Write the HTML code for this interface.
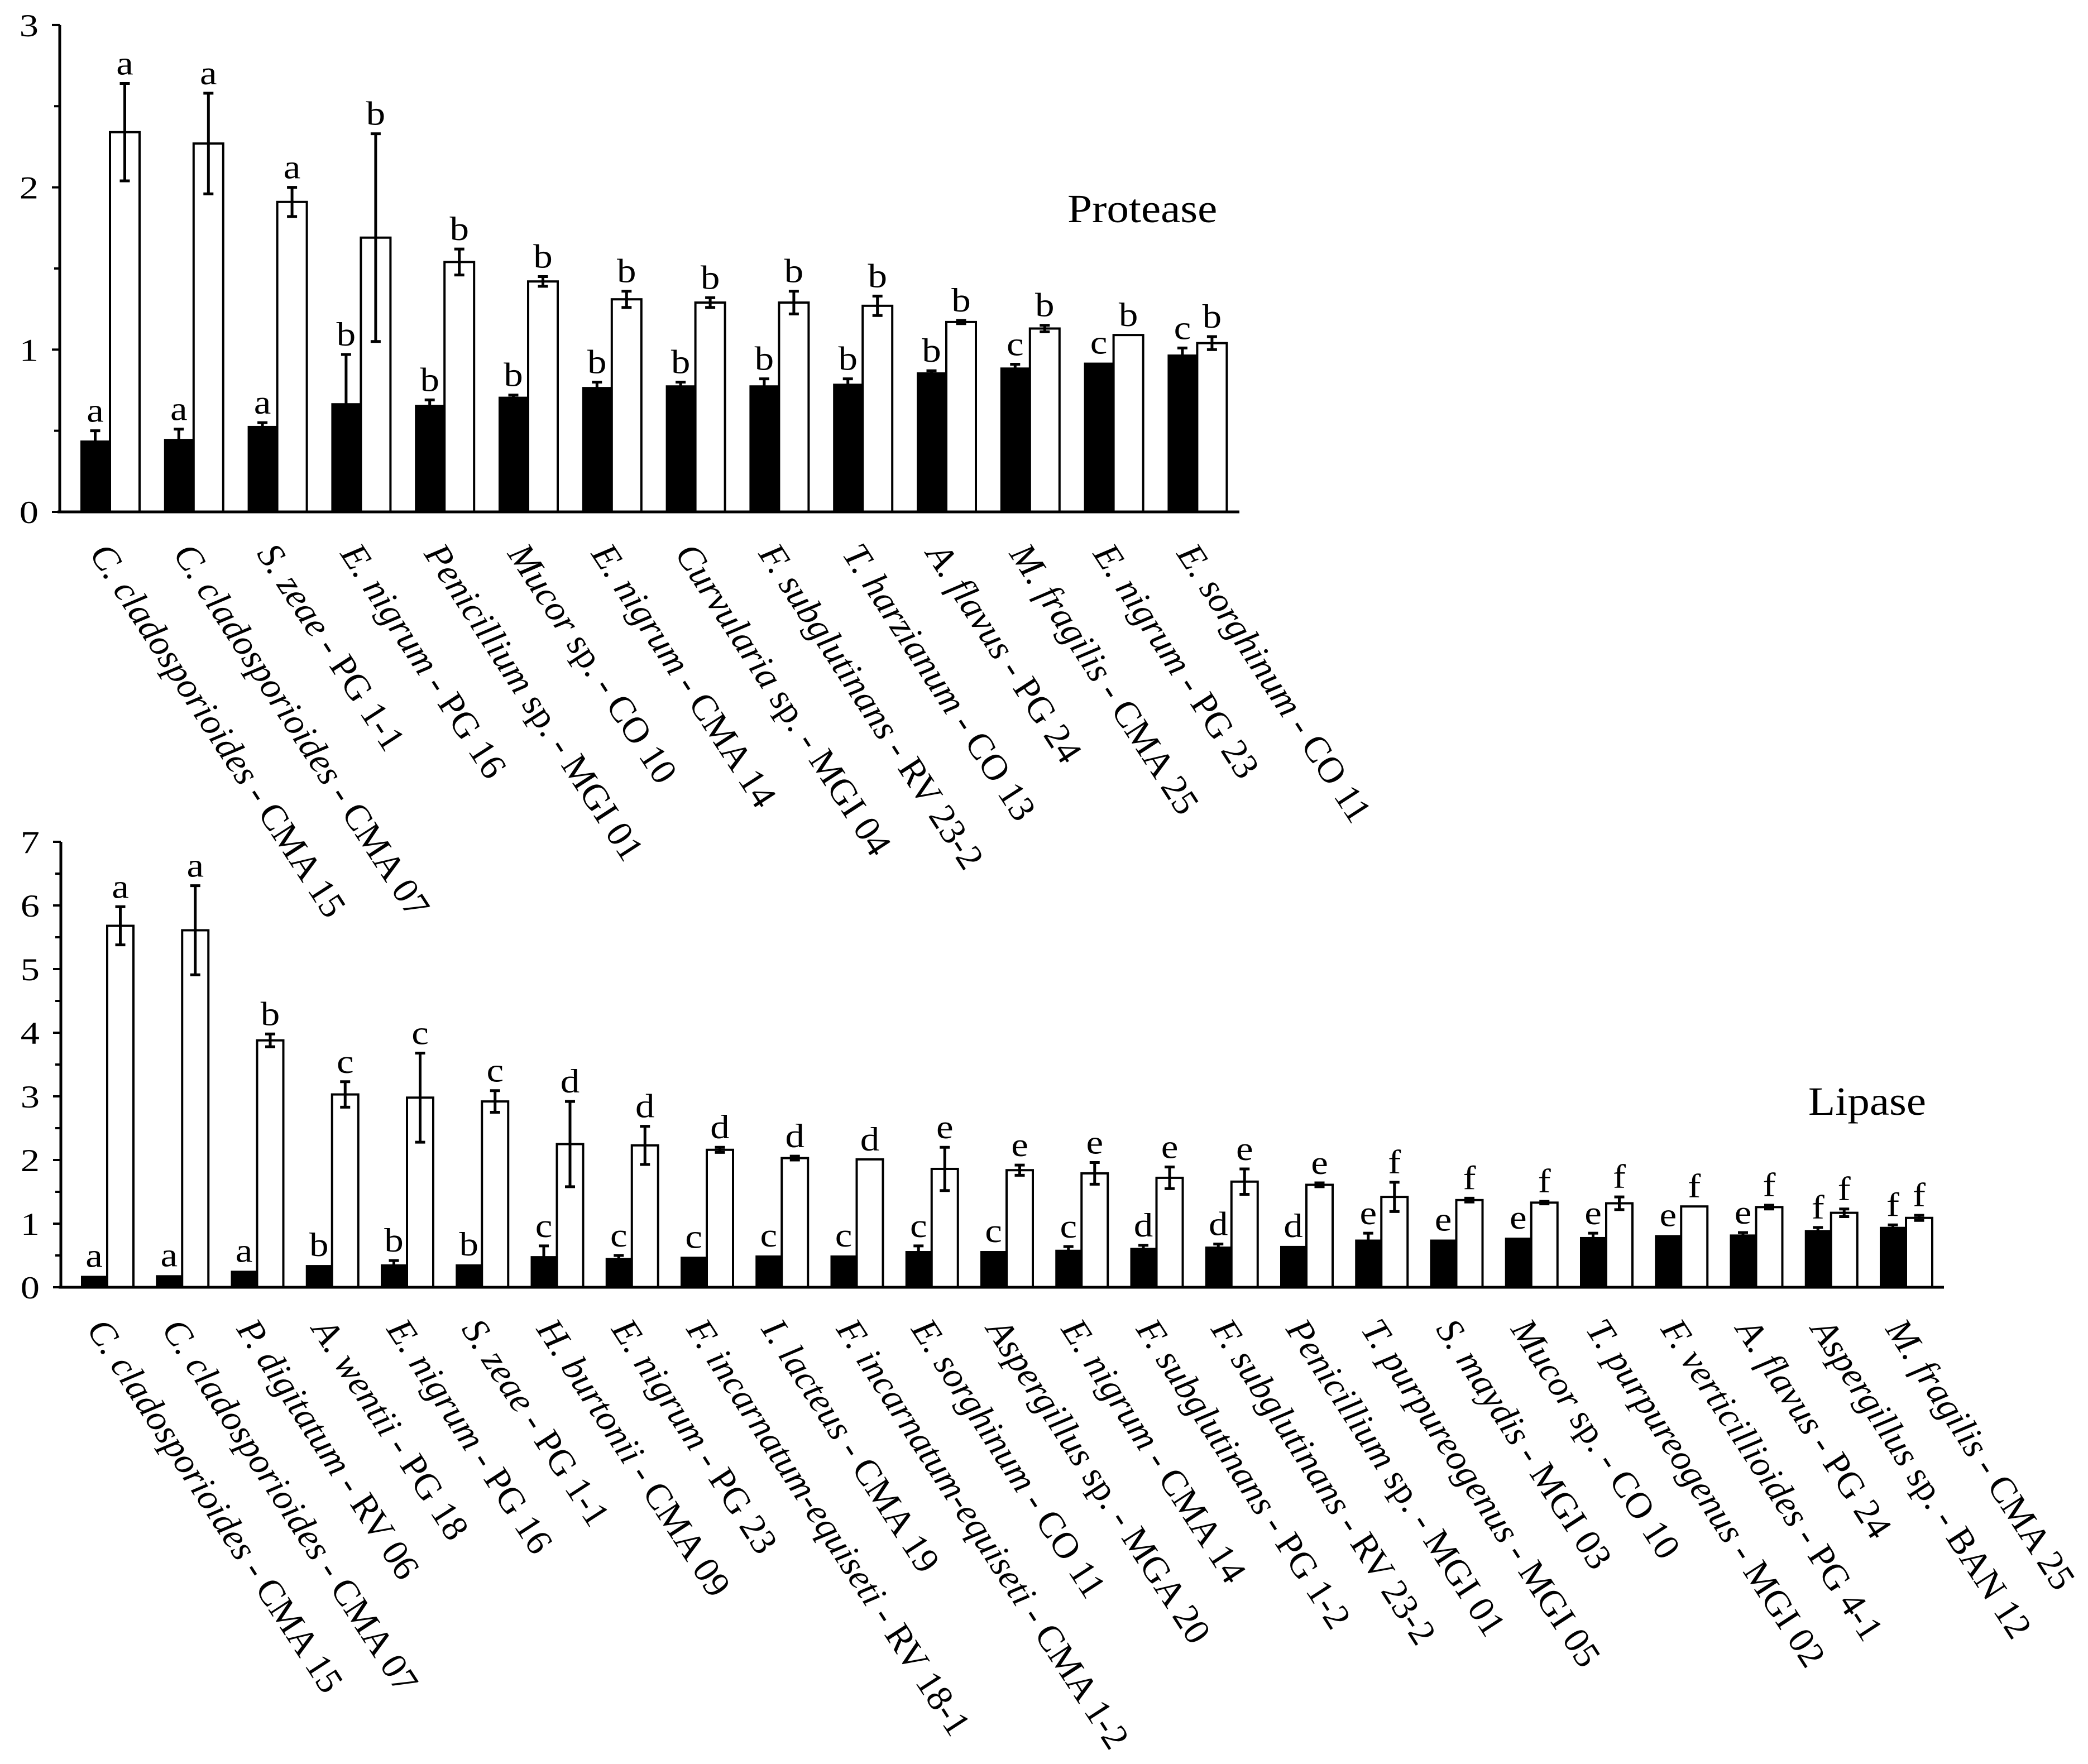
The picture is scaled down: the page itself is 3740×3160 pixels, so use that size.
<!DOCTYPE html>
<html><head><meta charset="utf-8"><style>
html,body{margin:0;padding:0;background:#fff}
svg{display:block}
text{font-family:"Liberation Serif",serif;fill:#000}
</style></head><body>
<svg id="chart" xmlns="http://www.w3.org/2000/svg" width="3740" height="3160" viewBox="0 0 3740 3160">
<rect width="3740" height="3160" fill="#fff"/>
<g id="top"></g>
<g id="bot"></g>
<text transform="translate(1912 398) scale(1.1 1)" font-size="72">Protease</text>
<text transform="translate(3450 1997) scale(1.1 1)" font-size="72" text-anchor="end">Lipase</text>
</svg>
<script>
// Protease data
const protSpecies = ["C. cladosporioides","C. cladosporioides","S. zeae","E. nigrum","Penicillium","Mucor","E. nigrum","Curvularia","F. subglutinans","T. harzianum","A. flavus","M. fragilis","E. nigrum","E. sorghinum"];
const protSuffix = [" - CMA 15"," - CMA 07"," - PG 1-1"," - PG 16"," sp. - MGI 01"," sp. - CO 10"," - CMA 14"," sp. - MGI 04"," - RV 23-2"," - CO 13"," - PG 24"," - CMA 25"," - PG 23"," - CO 11"];
const protBlack = [0.44,0.45,0.53,0.67,0.66,0.71,0.77,0.78,0.78,0.79,0.86,0.89,0.92,0.97];
const protBlackErr = [0.06,0.06,0.02,0.30,0.03,0.01,0.03,0.02,0.04,0.03,0.01,0.02,0,0.04];
const protWhite = [2.34,2.27,1.91,1.69,1.54,1.42,1.31,1.29,1.29,1.27,1.17,1.13,1.09,1.04];
const protWhiteErr = [0.30,0.31,0.09,0.64,0.08,0.03,0.05,0.03,0.07,0.06,0.01,0.02,0,0.04];
const protBlackLet = ["a","a","a","b","b","b","b","b","b","b","b","c","c","c"];
const protWhiteLet = ["a","a","a","b","b","b","b","b","b","b","b","b","b","b"];
const protTicks = [0,1,2,3];
// Lipase data
const lipSpecies = ["C. cladosporioides","C. cladosporioides","P. digitatum","A. wentii","E. nigrum","S. zeae","H. burtonii","E. nigrum","F. incarnatum-equiseti","I. lacteus","F. incarnatum-equiseti","E. sorghinum","Aspergillus","E. nigrum","F. subglutinans","F. subglutinans","Penicillium","T. purpureogenus","S. maydis","Mucor","T. purpureogenus","F. verticillioides","A. flavus","Aspergillus","M. fragilis"];
const lipSuffix = [" - CMA 15"," - CMA 07"," - RV 06"," - PG 18"," - PG 16"," - PG 1-1"," - CMA 09"," - PG 23"," - RV 18-1"," - CMA 19"," - CMA 1-2"," - CO 11"," sp. - MGA 20"," - CMA 14"," - PG 1-2"," - RV 23-2"," sp. - MGI 01"," - MGI 05"," - MGI 03"," sp. - CO 10"," - MGI 02"," - PG 4-1"," - PG 24"," sp. - BAN 12"," - CMA 25"];
const lipBlack = [0.18,0.19,0.26,0.35,0.36,0.36,0.49,0.46,0.48,0.50,0.50,0.57,0.57,0.59,0.62,0.64,0.65,0.75,0.75,0.78,0.79,0.82,0.83,0.90,0.95];
const lipBlackErr = [0,0,0,0,0.06,0,0.16,0.04,0,0,0,0.08,0,0.05,0.04,0.04,0,0.10,0,0,0.06,0,0.03,0.04,0.03];
const lipWhite = [5.68,5.61,3.88,3.03,2.98,2.92,2.25,2.23,2.16,2.03,2.01,1.86,1.84,1.79,1.72,1.66,1.61,1.42,1.37,1.33,1.32,1.27,1.26,1.17,1.09];
const lipWhiteErr = [0.30,0.70,0.10,0.20,0.70,0.17,0.67,0.30,0.04,0.03,0,0.34,0.08,0.17,0.17,0.20,0.03,0.23,0.03,0.02,0.10,0,0.03,0.06,0.04];
const lipBlackLet = ["a","a","a","b","b","b","c","c","c","c","c","c","c","c","d","d","d","e","e","e","e","e","e","f","f"];
const lipWhiteLet = ["a","a","b","c","c","c","d","d","d","d","d","e","e","e","e","e","e","f","f","f","f","f","f","f","f"];
const lipTicks = [0,1,2,3,4,5,6,7];

const NS="http://www.w3.org/2000/svg";
function mk(parent,tag,attrs){const e=document.createElementNS(NS,tag);for(const k in attrs)e.setAttribute(k,attrs[k]);parent.appendChild(e);return e;}

function draw(g,cfg,species,suffix,black,bErr,white,wErr,bLet,wLet,ticks){
  const n=species.length;
  const y=v=>cfg.y0-v*cfg.unit;
  const xl=i=>cfg.first+i*cfg.step;
  const ya=mk(g,"line",{x1:cfg.x0,y1:y(ticks[ticks.length-1]),x2:cfg.x0,y2:cfg.y0,stroke:"#000","stroke-width":5});
  
  
  ticks.forEach((t,k)=>{
    const tl=mk(g,"line",{x1:cfg.x0-14,y1:y(t),x2:cfg.x0,y2:y(t),stroke:"#000","stroke-width":4});
    
    
    if(k<ticks.length-1){
      const m=mk(g,"line",{x1:cfg.x0-10,y1:y(t+0.5),x2:cfg.x0,y2:y(t+0.5),stroke:"#000","stroke-width":4});
      
      
    }
    const tx=mk(g,"text",{transform:`translate(${cfg.x0-38} ${y(t)+20}) scale(1.2 1)`,"font-size":57,"text-anchor":"end"});
    tx.textContent=String(t);
    
    
  });
  for(let i=0;i<n;i++){
    const xb=xl(i), xw=xb+cfg.bw;
    const rb=mk(g,"rect",{x:xb,y:y(black[i]),width:cfg.bw,height:black[i]*cfg.unit,fill:"#000"});
    
    
    const rw=mk(g,"rect",{x:xw,y:y(white[i]),width:cfg.bw,height:white[i]*cfg.unit,fill:"#fff",stroke:"#000","stroke-width":4});
    
    
    [[xb,black[i],bErr[i],bLet[i]],[xw,white[i],wErr[i],wLet[i]]].forEach(([x,v,e,l])=>{
      const cx=x+cfg.bw/2;
      if(e>0){
        const eb=mk(g,"path",{d:`M${cx},${y(v-e)}V${y(v+e)}M${cx-9},${y(v+e)}H${cx+9}M${cx-9},${y(v-e)}H${cx+9}`,stroke:"#000","stroke-width":5,fill:"none"});
        
        
      }
      const lt=mk(g,"text",{transform:`translate(${cx} ${y(v+e)-16}) scale(1.15 1)`,"font-size":60,"text-anchor":"middle"});
      lt.textContent=l;
      
      
    });
    const c=xb+cfg.bw;
    const lx=c-38, ly=cfg.y0+75;
    const lab=mk(g,"text",{x:lx,y:ly,"font-size":66,transform:`rotate(57 ${lx} ${ly})`});
    const sp=mk(lab,"tspan",{"font-style":"italic"}); sp.textContent=species[i];
    const sf=mk(lab,"tspan",{}); sf.textContent=suffix[i];
    
    
  }
  const xa=mk(g,"line",{x1:cfg.x0-4,y1:cfg.y0,x2:cfg.xEnd,y2:cfg.y0,stroke:"#000","stroke-width":5});
  
  
}
draw(document.getElementById("top"),{x0:107,xEnd:2220,y0:917,unit:290.7,first:144,step:149.8,bw:53},protSpecies,protSuffix,protBlack,protBlackErr,protWhite,protWhiteErr,protBlackLet,protWhiteLet,protTicks);
draw(document.getElementById("bot"),{x0:109,xEnd:3482,y0:2306,unit:114,first:145,step:134.25,bw:47},lipSpecies,lipSuffix,lipBlack,lipBlackErr,lipWhite,lipWhiteErr,lipBlackLet,lipWhiteLet,lipTicks);
</script>
</body></html>
